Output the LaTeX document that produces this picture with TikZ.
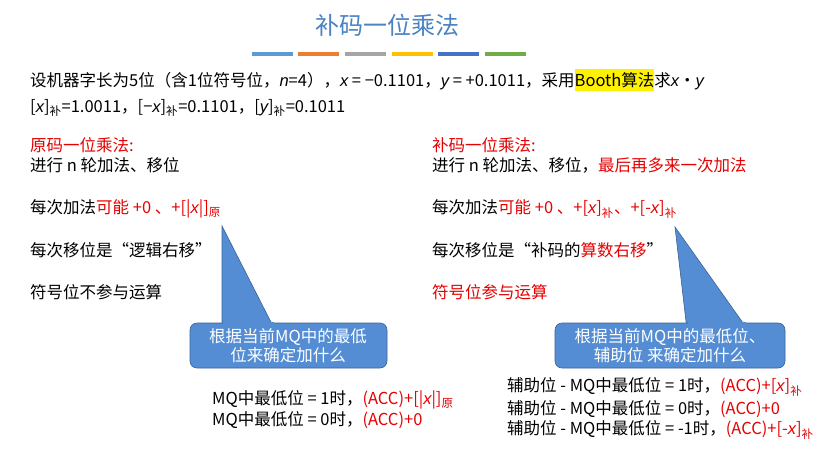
\documentclass[tikz,border=0pt]{standalone}
\usepackage{fontspec}
\setmainfont{Noto Sans CJK SC}
\setsansfont{Noto Sans CJK SC}
\newfontfamily\itf{Liberation Sans}[ItalicFont=* Italic]
\newcommand{\iv}[1]{{\itf\itshape #1}}
\begin{document}
\begin{tikzpicture}[x=1pt,y=-1pt,
  txt/.style={anchor=west,inner sep=0pt,font=\fontsize{16.5}{18}\selectfont},
  calloutfill/.style={fill=cblue,draw=cblue!70!black,line width=0.6pt},
  ctxt/.style={inner sep=0pt,align=center,text=white,font=\fontsize{16.5}{19}\selectfont},
  bar/.style={line width=4pt}]
\definecolor{cblue}{RGB}{84,141,212}
\definecolor{ttl}{RGB}{75,130,195}
\definecolor{rd}{RGB}{230,0,0}
\definecolor{c1}{RGB}{91,155,213}
\definecolor{c2}{RGB}{237,125,49}
\definecolor{c3}{RGB}{165,165,165}
\definecolor{c4}{RGB}{255,192,0}
\definecolor{c5}{RGB}{68,114,196}
\definecolor{c6}{RGB}{112,173,71}
\useasboundingbox[fill=white] (0,0) rectangle (823,450);
\newcommand{\bu}{\textsubscript{补}}
\newcommand{\yu}{\textsubscript{原}}
\node[font=\fontsize{24}{26}\selectfont,text=ttl] (title) at (387,25) {补码一位乘法};
\foreach \a/\c in {252/c1,298/c2,345/c3,392/c4,438/c5,485/c6}
  \draw[bar,\c] (\a,54) -- ++(41,0);
\node[txt] (l1) at (30,80) {设机器字长为5位（含1位符号位，\iv{n}=4），\iv{x} = −0.1101，\iv{y} = +0.1011，采用\colorbox{yellow}{\hspace{-3pt}Booth算法\hspace{-3pt}}求\iv{x}·\iv{y}};
\node[txt] (l2) at (30,108) {[\iv{x}]\bu=1.0011，[−\iv{x}]\bu=0.1101，[\iv{y}]\bu=0.1011};
% left column
\node[txt,text=rd] (a1) at (30,145) {原码一位乘法:};
\node[txt] (a2) at (30,165) {进行 n 轮加法、移位};
\node[txt] (a3) at (30,209) {每次加法\textcolor{rd}{可能 +0 、+[|\iv{x}|]\yu}};
\node[txt] (a4) at (30,250) {每次移位是“逻辑右移”};
\node[txt] (a5) at (30,292) {符号位不参与运算};
% right column
\node[txt,text=rd] (b1) at (432,145) {补码一位乘法:};
\node[txt] (b2) at (432,165) {进行 n 轮加法、移位，\textcolor{rd}{最后再多来一次加法}};
\node[txt] (b3) at (432,209) {每次加法\textcolor{rd}{可能 +0 、+[\iv{x}]\bu、+[-\iv{x}]\bu}};
\node[txt] (b4) at (432,250) {每次移位是“补码的\textcolor{rd}{算数右移}”};
\node[txt,text=rd] (b5) at (432,292) {符号位参与运算};
% callouts
\coordinate (tipL) at (222,226);
\coordinate (tipR) at (675,227);
\fill[calloutfill] (tipL) -- (222,330) -- (275,330) -- cycle;
\draw[calloutfill,rounded corners=7pt] (190,323) rectangle (387,368);
\fill[cblue] (223,322) -- (274,322) -- (274,325) -- (223,325) -- cycle;
\node[ctxt] (cl) at (288,345.5) {根据当前MQ中的最低\\位来确定加什么};
\fill[calloutfill] (tipR) -- (687,330) -- (748,330) -- cycle;
\draw[calloutfill,rounded corners=7pt] (555,323) rectangle (785,368);
\fill[cblue] (688,322) -- (746,322) -- (746,325) -- (688,325) -- cycle;
\node[ctxt] (cr) at (670,345.5) {根据当前MQ中的最低位、\\辅助位 来确定加什么};
% bottom
\node[txt] (d1) at (212,400) {MQ中最低位 = 1时，\textcolor{rd}{(ACC)+[|\iv{x}|]\yu}};
\node[txt] (d2) at (212,420) {MQ中最低位 = 0时，\textcolor{rd}{(ACC)+0}};
\node[txt] (e1) at (507,387) {辅助位 - MQ中最低位 = 1时，\textcolor{rd}{(ACC)+[\iv{x}]\bu}};
\node[txt] (e2) at (507,409) {辅助位 - MQ中最低位 = 0时，\textcolor{rd}{(ACC)+0}};
\node[txt] (e3) at (507,430) {辅助位 - MQ中最低位 = -1时，\textcolor{rd}{(ACC)+[-\iv{x}]\bu}};
\end{tikzpicture}
\end{document}
